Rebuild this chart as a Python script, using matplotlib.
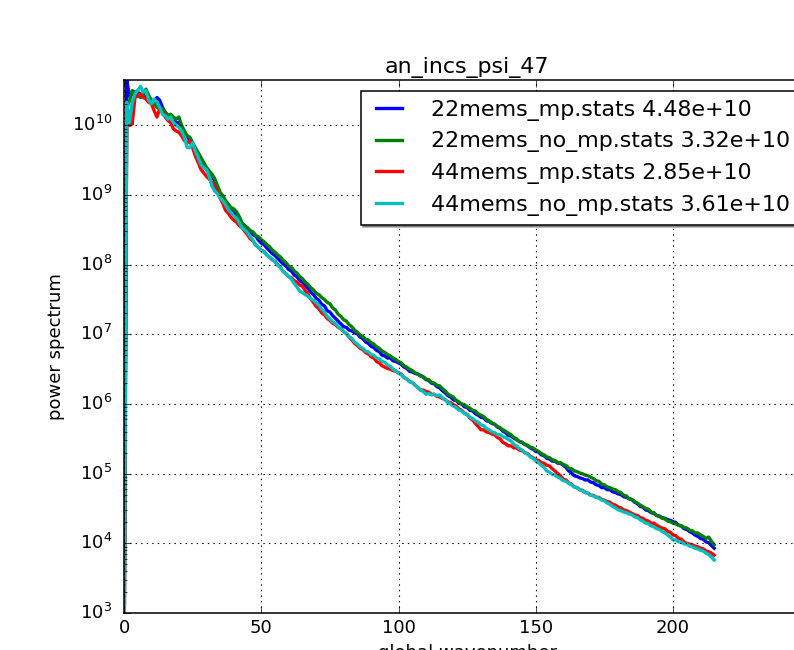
import numpy as np
import matplotlib
matplotlib.use("Agg")
import matplotlib.pyplot as plt

title = "an_incs_psi_47"
xlabel = "global wavenumber"
ylabel = "power spectrum"
names = ["22mems_mp.stats", "22mems_no_mp.stats", "44mems_mp.stats", "44mems_no_mp.stats"]
maxima = [4.48e10, 3.32e10, 2.85e10, 3.61e10]
colors = ["b", "g", "r", "c"]

wavenumber = list(range(216))

# log10 of power spectrum
log_blue = [
    2.0, 10.65, 10.42, 10.45, 10.48, 10.47, 10.45, 10.43, 10.40, 10.38,
    10.33, 10.31, 10.40, 10.36, 10.26, 10.19, 10.14, 10.12, 10.09, 10.04,
    10.04, 9.97, 9.90, 9.85, 9.78, 9.71, 9.63, 9.59, 9.51, 9.44,
    9.37, 9.32, 9.27, 9.21, 9.11, 9.02, 8.96, 8.90, 8.85, 8.79,
    8.76, 8.70, 8.65, 8.59, 8.56, 8.50, 8.48, 8.43, 8.41, 8.35,
    8.31, 8.29, 8.24, 8.20, 8.16, 8.13, 8.09, 8.05, 8.01, 7.98,
    7.93, 7.91, 7.85, 7.83, 7.77, 7.75, 7.70, 7.66, 7.61, 7.57,
    7.52, 7.49, 7.43, 7.41, 7.34, 7.32, 7.27, 7.23, 7.19, 7.15,
    7.11, 7.10, 7.06, 7.05, 7.02, 7.01, 6.96, 6.94, 6.89, 6.87,
    6.83, 6.81, 6.77, 6.75, 6.70, 6.69, 6.66, 6.66, 6.62, 6.61,
    6.59, 6.57, 6.53, 6.51, 6.47, 6.46, 6.44, 6.43, 6.41, 6.39,
    6.35, 6.34, 6.30, 6.29, 6.25, 6.23, 6.19, 6.16, 6.12, 6.10,
    6.06, 6.05, 6.01, 6.00, 5.96, 5.95, 5.91, 5.90, 5.86, 5.84,
    5.81, 5.80, 5.76, 5.75, 5.72, 5.71, 5.67, 5.65, 5.61, 5.59,
    5.55, 5.54, 5.51, 5.49, 5.46, 5.45, 5.42, 5.40, 5.37, 5.35,
    5.32, 5.31, 5.27, 5.26, 5.22, 5.21, 5.18, 5.18, 5.15, 5.15,
    5.12, 5.09, 5.04, 5.01, 4.97, 4.96, 4.94, 4.93, 4.91, 4.91,
    4.88, 4.87, 4.84, 4.83, 4.80, 4.80, 4.77, 4.77, 4.74, 4.73,
    4.71, 4.70, 4.67, 4.66, 4.64, 4.63, 4.59, 4.57, 4.53, 4.52,
    4.48, 4.47, 4.44, 4.43, 4.40, 4.39, 4.37, 4.36, 4.34, 4.33,
    4.31, 4.30, 4.26, 4.25, 4.21, 4.20, 4.17, 4.15, 4.12, 4.10,
    4.07, 4.06, 4.02, 4.01, 3.97, 3.93,
]
log_green = [
    2.0, 10.25, 10.35, 10.50, 10.45, 10.43, 10.40, 10.44, 10.52, 10.43,
    10.36, 10.31, 10.26, 10.24, 10.24, 10.19, 10.14, 10.16, 10.12, 10.09,
    10.12, 10.00, 9.92, 9.85, 9.83, 9.75, 9.68, 9.61, 9.54, 9.47,
    9.40, 9.35, 9.30, 9.24, 9.14, 9.04, 8.99, 8.92, 8.87, 8.82,
    8.80, 8.76, 8.69, 8.60, 8.56, 8.53, 8.49, 8.47, 8.42, 8.40,
    8.36, 8.33, 8.29, 8.26, 8.21, 8.18, 8.14, 8.11, 8.06, 8.03,
    7.98, 7.96, 7.91, 7.88, 7.83, 7.80, 7.75, 7.72, 7.67, 7.64,
    7.59, 7.57, 7.53, 7.50, 7.46, 7.44, 7.38, 7.35, 7.29, 7.26,
    7.21, 7.19, 7.14, 7.11, 7.06, 7.03, 6.99, 6.97, 6.93, 6.92,
    6.88, 6.86, 6.82, 6.80, 6.76, 6.74, 6.71, 6.69, 6.66, 6.64,
    6.61, 6.59, 6.55, 6.53, 6.50, 6.48, 6.45, 6.43, 6.40, 6.39,
    6.36, 6.35, 6.31, 6.30, 6.27, 6.26, 6.22, 6.19, 6.14, 6.12,
    6.10, 6.05, 6.03, 6.00, 5.99, 5.96, 5.94, 5.91, 5.90, 5.86,
    5.84, 5.82, 5.78, 5.76, 5.73, 5.71, 5.68, 5.66, 5.63, 5.61,
    5.58, 5.56, 5.52, 5.50, 5.46, 5.45, 5.42, 5.41, 5.38, 5.37,
    5.34, 5.32, 5.29, 5.27, 5.24, 5.23, 5.20, 5.19, 5.16, 5.16,
    5.13, 5.12, 5.08, 5.07, 5.04, 5.03, 5.01, 5.00, 4.98, 4.97,
    4.95, 4.93, 4.90, 4.89, 4.85, 4.84, 4.81, 4.80, 4.78, 4.77,
    4.74, 4.73, 4.69, 4.68, 4.64, 4.63, 4.60, 4.58, 4.55, 4.53,
    4.50, 4.49, 4.45, 4.44, 4.40, 4.39, 4.36, 4.35, 4.32, 4.31,
    4.29, 4.28, 4.26, 4.25, 4.23, 4.22, 4.19, 4.18, 4.15, 4.15,
    4.12, 4.10, 4.07, 4.09, 4.03, 3.98,
]
log_red = [
    2.0, 10.25, 10.00, 10.02, 10.40, 10.43, 10.45, 10.40, 10.38, 10.33,
    10.31, 10.21, 10.12, 10.24, 10.19, 10.12, 10.07, 10.04, 9.95, 9.92,
    9.90, 9.85, 9.78, 9.75, 9.78, 9.68, 9.56, 9.47, 9.37, 9.32,
    9.27, 9.23, 9.18, 9.12, 9.05, 8.96, 8.88, 8.78, 8.74, 8.68,
    8.64, 8.61, 8.56, 8.53, 8.48, 8.43, 8.37, 8.34, 8.28, 8.25,
    8.21, 8.19, 8.14, 8.11, 8.07, 8.05, 8.00, 7.96, 7.90, 7.87,
    7.83, 7.81, 7.77, 7.75, 7.71, 7.69, 7.63, 7.58, 7.51, 7.46,
    7.40, 7.37, 7.31, 7.28, 7.23, 7.20, 7.16, 7.14, 7.10, 7.08,
    7.04, 7.01, 6.96, 6.92, 6.87, 6.84, 6.80, 6.78, 6.74, 6.72,
    6.68, 6.66, 6.61, 6.59, 6.55, 6.53, 6.51, 6.50, 6.48, 6.47,
    6.45, 6.43, 6.38, 6.36, 6.32, 6.31, 6.27, 6.24, 6.20, 6.20,
    6.18, 6.17, 6.14, 6.14, 6.11, 6.10, 6.08, 6.06, 6.03, 6.02,
    5.99, 5.97, 5.93, 5.91, 5.87, 5.85, 5.80, 5.77, 5.72, 5.68,
    5.63, 5.63, 5.60, 5.59, 5.57, 5.56, 5.52, 5.50, 5.45, 5.43,
    5.40, 5.40, 5.37, 5.37, 5.34, 5.33, 5.30, 5.29, 5.25, 5.23,
    5.20, 5.19, 5.16, 5.15, 5.12, 5.11, 5.07, 5.04, 5.00, 4.97,
    4.92, 4.91, 4.87, 4.85, 4.81, 4.80, 4.77, 4.76, 4.73, 4.72,
    4.69, 4.69, 4.66, 4.66, 4.63, 4.62, 4.60, 4.59, 4.56, 4.55,
    4.52, 4.51, 4.48, 4.47, 4.45, 4.43, 4.41, 4.40, 4.37, 4.36,
    4.33, 4.32, 4.29, 4.29, 4.26, 4.24, 4.22, 4.21, 4.17, 4.16,
    4.12, 4.11, 4.07, 4.06, 4.02, 4.00, 3.99, 3.98, 3.96, 3.95,
    3.93, 3.92, 3.89, 3.88, 3.86, 3.83,
]
log_cyan = [
    2.0, 10.33, 10.04, 10.33, 10.45, 10.50, 10.56, 10.48, 10.50, 10.36,
    10.31, 10.38, 10.33, 10.26, 10.16, 10.14, 10.09, 10.12, 10.04, 10.00,
    9.97, 9.92, 9.83, 9.68, 9.68, 9.75, 9.63, 9.54, 9.44, 9.39,
    9.37, 9.27, 9.13, 9.06, 9.02, 8.96, 8.92, 8.86, 8.79, 8.75,
    8.70, 8.67, 8.60, 8.53, 8.50, 8.46, 8.40, 8.35, 8.28, 8.25,
    8.21, 8.18, 8.14, 8.11, 8.08, 8.04, 7.99, 7.96, 7.90, 7.87,
    7.83, 7.79, 7.73, 7.68, 7.62, 7.60, 7.57, 7.55, 7.51, 7.49,
    7.45, 7.42, 7.36, 7.32, 7.26, 7.22, 7.18, 7.16, 7.11, 7.08,
    7.04, 7.01, 6.97, 6.94, 6.89, 6.86, 6.82, 6.80, 6.76, 6.75,
    6.71, 6.70, 6.66, 6.65, 6.61, 6.60, 6.56, 6.54, 6.50, 6.48,
    6.44, 6.42, 6.38, 6.36, 6.32, 6.31, 6.27, 6.24, 6.20, 6.18,
    6.14, 6.15, 6.13, 6.14, 6.12, 6.13, 6.09, 6.06, 6.02, 6.00,
    5.97, 5.95, 5.91, 5.90, 5.86, 5.85, 5.81, 5.79, 5.76, 5.74,
    5.70, 5.69, 5.65, 5.63, 5.60, 5.59, 5.56, 5.56, 5.53, 5.52,
    5.49, 5.47, 5.42, 5.40, 5.36, 5.34, 5.30, 5.28, 5.24, 5.22,
    5.18, 5.16, 5.12, 5.09, 5.04, 5.02, 4.99, 4.98, 4.95, 4.93,
    4.90, 4.89, 4.86, 4.84, 4.81, 4.80, 4.77, 4.76, 4.73, 4.72,
    4.69, 4.68, 4.66, 4.65, 4.62, 4.61, 4.58, 4.56, 4.53, 4.51,
    4.48, 4.47, 4.45, 4.44, 4.42, 4.41, 4.38, 4.37, 4.34, 4.32,
    4.29, 4.28, 4.25, 4.24, 4.21, 4.20, 4.17, 4.15, 4.12, 4.09,
    4.05, 4.05, 4.02, 4.02, 3.99, 3.99, 3.96, 3.95, 3.93, 3.92,
    3.90, 3.89, 3.86, 3.84, 3.80, 3.76,
]

xlim = (0, 250)
ylim = (1e3, 4.48e10)

plt.style.use("classic")
plt.rcParams["font.family"] = ["DejaVu Sans"]

fig = plt.figure(figsize=(7.94, 6.5), dpi=100, facecolor="white")
ax = fig.add_axes([124 / 794, 37 / 650, 686.3 / 794, 533 / 650])

series = [log_blue, log_green, log_red, log_cyan]
for logv, name, mx, c in zip(series, names, maxima, colors):
    ax.plot(wavenumber, 10 ** np.array(logv), color=c, lw=2.4,
            label=f"{name} {mx:.2e}")

ax.set_yscale("log")
ax.set_xlim(*xlim)
ax.set_ylim(*ylim)
ax.grid(True, which="major", color="k", linestyle=":", linewidth=0.8)
for s in ax.spines.values():
    s.set_linewidth(1.1)
ax.tick_params(labelsize=13, which="both")
ax.tick_params(which="major", length=5)
ax.tick_params(which="minor", length=2.5)
ax.tick_params(axis="y", which="both", pad=8.5)
ax.set_title(title, fontsize=15.9)
ax.set_xlabel(xlabel, fontsize=13)
ax.set_ylabel(ylabel, fontsize=13)

leg = ax.legend(loc="upper right", fontsize=15.9, shadow=True,
                handlelength=1.76, handletextpad=1.04, borderpad=0.4,
                labelspacing=0.48, borderaxespad=0.5, fancybox=False)
leg.get_frame().set_linewidth(1.1)

fig.savefig("out.png", dpi=100, facecolor="white")
